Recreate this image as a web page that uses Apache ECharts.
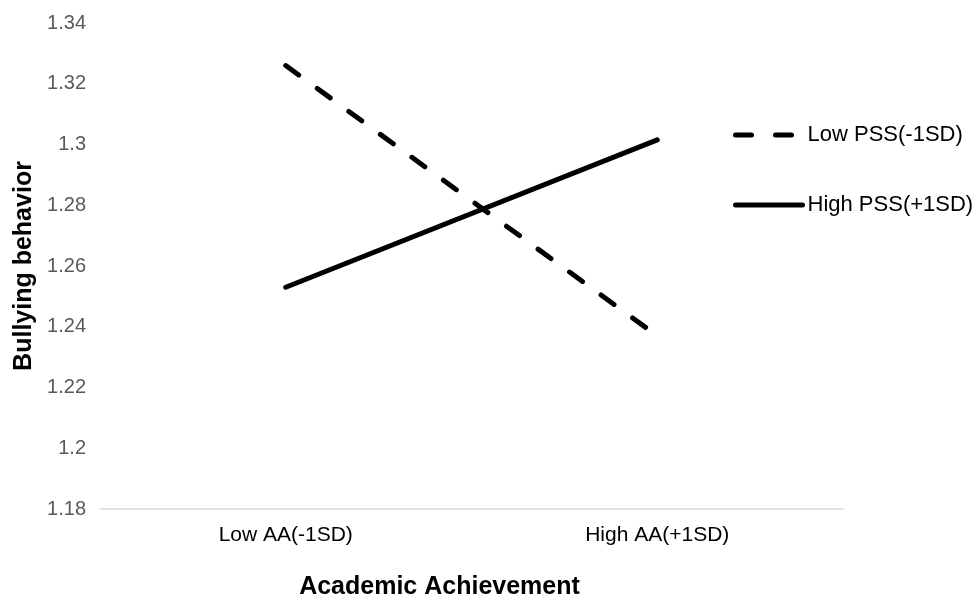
<!DOCTYPE html>
<html>
<head>
<meta charset="utf-8">
<script src="https://cdn.jsdelivr.net/npm/echarts@6/dist/echarts.min.js"></script>
<style>html,body{margin:0;padding:0;background:#fff;}#c{width:972px;height:601px;}</style>
</head>
<body>
<div id="c"></div>
<script>
const categories = ['Low AA(-1SD)', 'High AA(+1SD)'];
const lowPSS = [1.326, 1.237];
const highPSS = [1.253, 1.3015];
const seriesNames = ['Low PSS(-1SD)', 'High PSS(+1SD)'];
const yTicks = { min: 1.18, max: 1.34, interval: 0.02 };

const FONT = 'Liberation Sans, Arial, sans-serif';
const chart = echarts.init(document.getElementById('c'));
chart.setOption({
  backgroundColor: '#fff',
  animation: false,
  textStyle: { fontFamily: FONT },
  grid: { left: 100, right: 129, top: 23, bottom: 92, containLabel: false, outerBoundsMode: 'none' },
  legend: {
    orient: 'vertical',
    left: 728,
    top: 119,
    itemWidth: 67,
    itemHeight: 20,
    itemGap: 48,
    itemStyle: { opacity: 0 },
    lineStyle: { width: 5, color: '#000' },
    textStyle: { fontSize: 22, color: '#000', fontFamily: FONT },
    data: [
      { name: seriesNames[0], lineStyle: { type: [16, 24], cap: 'round', width: 5, color: '#000' } },
      { name: seriesNames[1] }
    ]
  },
  xAxis: {
    type: 'category',
    data: categories,
    boundaryGap: true,
    axisLine: { lineStyle: { color: '#d9d9d9', width: 1.5 } },
    axisTick: { show: false },
    axisLabel: { fontSize: 21, color: '#000', margin: 16 },
    name: 'Academic Achievement',
    nameLocation: 'middle',
    nameGap: 66,
    nameTextStyle: { fontSize: 25, fontWeight: 'bold', color: '#000', padding: [0, 64, 0, 0] }
  },
  yAxis: {
    type: 'value',
    min: yTicks.min,
    max: yTicks.max,
    interval: yTicks.interval,
    axisLine: { show: false },
    axisTick: { show: false },
    splitLine: { show: false },
    axisLabel: { fontSize: 20, color: '#595959', margin: 14, formatter: v => String(parseFloat(v.toFixed(2))) },
    name: 'Bullying behavior',
    nameLocation: 'middle',
    nameGap: 61,
    nameTextStyle: { fontSize: 25, fontWeight: 'bold', color: '#000' }
  },
  series: [
    {
      name: seriesNames[0],
      type: 'line',
      data: lowPSS,
      symbol: 'none',
      lineStyle: { color: '#000', width: 5, type: [16, 23], cap: 'round' },
      itemStyle: { color: '#000' }
    },
    {
      name: seriesNames[1],
      type: 'line',
      data: highPSS,
      symbol: 'none',
      lineStyle: { color: '#000', width: 5, type: 'solid', cap: 'round' },
      itemStyle: { color: '#000' }
    }
  ]
});
</script>
</body>
</html>
